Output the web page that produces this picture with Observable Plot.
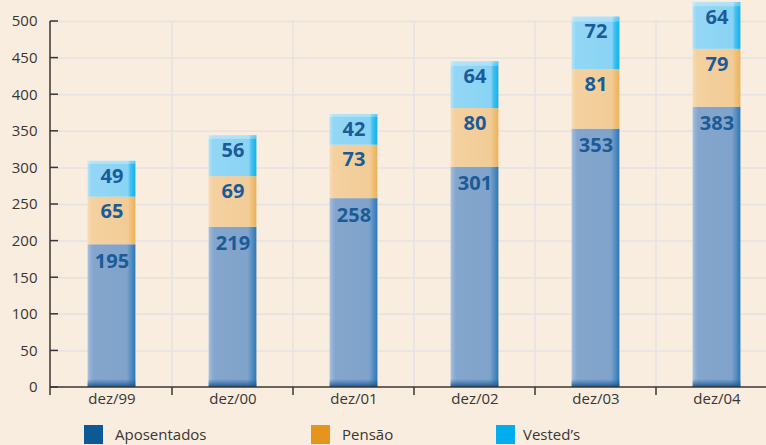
<!DOCTYPE html>
<html><head><meta charset="utf-8">
<script src="https://cdn.jsdelivr.net/npm/d3@7"></script>
<script src="https://cdn.jsdelivr.net/npm/@observablehq/plot@0.6"></script>
<style>
html,body{margin:0;padding:0;background:#f8eddf;width:766px;height:445px;overflow:hidden;font-family:"Open Sans",sans-serif;}
#chart{position:absolute;left:0;top:0;}
#legend{position:absolute;top:425px;left:0;width:766px;height:19px;}
.item{position:absolute;top:0;display:flex;align-items:center;font-size:15px;color:#3b3631;line-height:19px;}
.sw{width:19px;height:19px;display:inline-block;}
</style></head><body>
<div id="chart"></div><div id="legend"></div>
<script>
const categories = ["dez/99","dez/00","dez/01","dez/02","dez/03","dez/04"];
const series = ["Aposentados","Pensão","Vested’s"];
const aposentados = [195,219,258,301,353,383];
const pensao = [65,69,73,80,81,79];
const vested = [49,56,42,64,72,64];
const yTicks = [0,50,100,150,200,250,300,350,400,450,500];
const legendColors = ["#0b5a96","#e5941c","#00aeef"];

const data = categories.flatMap((c,i)=>[
  {cat:c, series:series[0], value:aposentados[i]},
  {cat:c, series:series[1], value:pensao[i]},
  {cat:c, series:series[2], value:vested[i]}
]);

const inset = 36.6;
const textColor = "#3b3631";
const plot = Plot.plot({
  width:766, height:420, marginLeft:50, marginTop:21, marginBottom:33, marginRight:0,
  style:{background:"transparent", fontFamily:"'Open Sans', sans-serif", fontSize:"15px", color:textColor},
  x:{domain:categories, range:[50,777], padding:0, label:null},
  y:{domain:[0,500], label:null},
  color:{domain:series, range:["url(#gA)","url(#gP)","url(#gV)"]},
  marks:[
    Plot.ruleY(yTicks.slice(1), {y:d=>d, stroke:"#e6e2e0", strokeWidth:1.5}),
    Plot.barY(data, {x:"cat", y:"value", fill:"series", insetLeft:inset, insetRight:inset}),
    Plot.barY(data, {x:"cat", y:"value", z:"series", fill:d=>d.series===series[0]?"url(#gBottom)":d.series===series[2]?"url(#gTop)":"none", insetLeft:inset, insetRight:inset}),
    Plot.text(data, Plot.stackY2({x:"cat", y:"value", z:"series", text:d=>d.series===series[0]?String(d.value):null, lineAnchor:"top", dy:9, fill:"#1a5b99", fontWeight:"bold", fontSize:20})),
    Plot.text(data, Plot.stackY2({x:"cat", y:"value", z:"series", text:d=>d.series!==series[0]?String(d.value):null, lineAnchor:"top", dy:7, fill:"#1a5b99", fontWeight:"bold", fontSize:20})),
    Plot.axisY(yTicks, {tickSize:0, tickPadding:13, fontSize:15, fill:textColor}),
    Plot.axisX({tickSize:0, tickPadding:6, fontSize:15, fill:textColor})
  ]
});

const svg = d3.select(plot);
const defs = svg.insert("defs", ":first-child");
function hgrad(id, stops){
  const g = defs.append("linearGradient").attr("id", id).attr("x1",0).attr("x2",1).attr("y1",0).attr("y2",0);
  stops.forEach(([o,c])=>g.append("stop").attr("offset",o).attr("stop-color",c));
}
hgrad("gA", [[0,"#a9c2e0"],[0.06,"#93b0d4"],[0.12,"#84a6cd"],[0.82,"#80a3cb"],[0.9,"#5b90c3"],[1,"#2a78b6"]]);
hgrad("gP", [[0,"#f8dcb6"],[0.08,"#f4d1a0"],[0.84,"#f2cc96"],[0.92,"#efbe75"],[1,"#ecb159"]]);
hgrad("gV", [[0,"#b5e3f8"],[0.08,"#93d7f5"],[0.84,"#8ad3f4"],[0.9,"#40c0f0"],[1,"#10b2ea"]]);
const ys = plot.scale("y");
const y0 = ys.apply(0);
const gb = defs.append("linearGradient").attr("id","gBottom").attr("gradientUnits","userSpaceOnUse")
  .attr("x1",0).attr("x2",0).attr("y1",y0-8).attr("y2",y0);
gb.append("stop").attr("offset",0).attr("stop-color","#1a5f9c").attr("stop-opacity",0);
gb.append("stop").attr("offset",0.5).attr("stop-color","#1a5f9c").attr("stop-opacity",0.5);
gb.append("stop").attr("offset",1).attr("stop-color","#104f8a").attr("stop-opacity",0.95);
const gt = defs.append("linearGradient").attr("id","gTop").attr("x1",0).attr("x2",0).attr("y1",0).attr("y2",1);
gt.append("stop").attr("offset",0).attr("stop-color","#ffffff").attr("stop-opacity",0.35);
gt.append("stop").attr("offset",0.09).attr("stop-color","#ffffff").attr("stop-opacity",0.25);
gt.append("stop").attr("offset",0.1).attr("stop-color","#ffffff").attr("stop-opacity",0);
gt.append("stop").attr("offset",1).attr("stop-color","#ffffff").attr("stop-opacity",0);

const xs = plot.scale("x");
const yTop = ys.apply(500);
const grid = svg.insert("g", "defs + *").attr("aria-label","vgrid");
const axes = svg.append("g").attr("aria-label","axes");
categories.slice(1).forEach(c=>{
  const bx = xs.apply(c);
  grid.append("line").attr("x1",bx).attr("x2",bx).attr("y1",yTop).attr("y2",y0).attr("stroke","#e6e2e0").attr("stroke-width",1.5);
  axes.append("line").attr("x1",bx).attr("x2",bx).attr("y1",y0).attr("y2",y0+8).attr("stroke",textColor).attr("stroke-width",1.5);
});
yTicks.forEach(t=>{
  const py = ys.apply(t);
  axes.append("line").attr("x1",50).attr("x2",58).attr("y1",py).attr("y2",py).attr("stroke",textColor).attr("stroke-width",1.5);
});
axes.append("line").attr("x1",50).attr("x2",766).attr("y1",y0).attr("y2",y0).attr("stroke",textColor).attr("stroke-width",1.5);
axes.append("line").attr("x1",50).attr("x2",50).attr("y1",yTop).attr("y2",y0+8).attr("stroke",textColor).attr("stroke-width",1.5);

document.getElementById("chart").appendChild(plot);

const legendX = [84, 311, 496];
const gaps = [12, 12, 8];
const legend = d3.select("#legend");
series.forEach((s,i)=>{
  const it = legend.append("div").attr("class","item").style("left", legendX[i]+"px");
  it.append("span").attr("class","sw").style("background", legendColors[i]).style("margin-right", gaps[i]+"px");
  it.append("span").text(s);
});
</script>
</body></html>
